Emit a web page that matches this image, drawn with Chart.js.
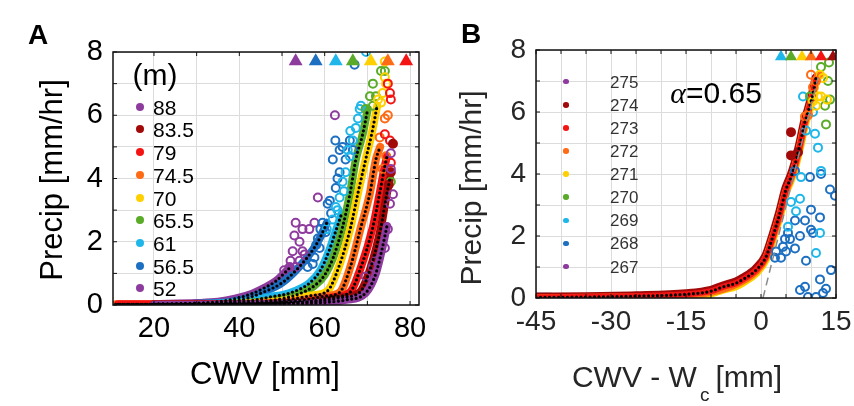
<!DOCTYPE html>
<html>
<head>
<meta charset="utf-8">
<script src="https://cdn.jsdelivr.net/npm/chart.js@4.4.1/dist/chart.umd.min.js"></script>
<style>
  html, body { margin: 0; padding: 0; background: #fff; }
  #wrap { position: relative; width: 854px; height: 406px; overflow: hidden; font-family: "Liberation Sans", Arial, sans-serif; }
  canvas { position: absolute; top: 0; }
  .txt { position: absolute; line-height: 1; white-space: nowrap; transform: translate(-50%, -50%); }
  .rot { transform: translate(-50%, -50%) rotate(-90deg); }
  .row { position: absolute; line-height: 1; white-space: nowrap; transform: translateY(-50%); }
  .dot { position: absolute; border-radius: 50%; }
</style>
</head>
<body>
<div id="wrap">
  <canvas id="chartA" width="430" height="406" style="left:0"></canvas>
  <canvas id="chartB" width="424" height="406" style="left:430px"></canvas>

  <div class="txt" style="left:38px;top:35px;font-weight:bold;font-size:28px">A</div>
  <div class="txt" style="left:471px;top:34px;font-weight:bold;font-size:28px">B</div>

  <div class="txt rot" style="left:51px;top:180px;font-size:31px">Precip [mm/hr]</div>
  <div class="txt" style="left:265px;top:373px;font-size:31px">CWV [mm]</div>
  <div class="txt" style="left:155px;top:75px;font-size:30px">(m)</div>

  <div class="txt rot" style="left:471px;top:188px;font-size:30px;color:#262626">Precip [mm/hr]</div>
  <div class="txt" style="left:677px;top:377px;font-size:30px;color:#262626">CWV - W<span style="font-size:19px;position:relative;top:14px;margin:0 6px 0 3px">c</span>[mm]</div>
  <div class="txt" style="left:716px;top:93px;font-size:30px"><span style="font-family:'Liberation Serif',serif;font-style:italic">&alpha;</span>=0.65</div>
</div>

<script>
// colours used by both panels
const purple = "#8e3b9e";
const darkred = "#a20a0a";
const red = "#f51414";
const orange = "#ff6a14";
const yellow = "#ffd000";
const green = "#5aab28";
const cyan = "#1fb7ea";
const blue = "#1d6fc1";

// ---------- panel A : precip vs CWV, by depth (m) ----------
const depthLabelsA = ["88", "83.5", "79", "74.5", "70", "65.5", "61", "56.5", "52"];
const depthColorsA = [purple, darkred, red, orange, yellow, green, cyan, blue, purple];

const ticksAX = [20, 30, 40, 50, 60, 70, 80];
const labelsAX = [20, 40, 60, 80];
const ticksAY = [0, 1, 2, 3, 4, 5, 6, 7, 8];
const labelsAY = [0, 2, 4, 6, 8];

// dense binned means (drawn as thick bands), [cwv, precip]
const a52Band = [[20, 0.03], [30, 0.06], [35, 0.1], [39, 0.2], [43, 0.36], [46, 0.55], [48.5, 0.75], [50.5, 1.0], [52, 1.2]];
const a565Band = [[20, 0.02], [30, 0.04], [38, 0.1], [42, 0.22], [45.5, 0.4], [50, 0.7], [54, 1.2], [57.2, 1.74], [59, 2.15], [60.5, 2.6]];
const a61Band = [[20, 0.02], [35, 0.05], [42, 0.12], [47, 0.25], [51.8, 0.38], [56.5, 0.7], [59, 1.1], [61, 1.7], [62.5, 2.3], [64, 2.9]];
const a655Band = [[20, 0.02], [38, 0.04], [45, 0.1], [50, 0.2], [54, 0.35], [57.5, 0.6], [60, 0.95], [62, 1.5], [64.2, 2.47], [65.9, 3.5], [67.3, 4.6], [68.9, 5.4], [70.1, 6.2]];
const a70Band = [[20, 0.02], [40, 0.04], [48, 0.1], [53, 0.2], [57, 0.3], [60.7, 0.45], [63.3, 1.2], [66.1, 2.47], [67.8, 3.54], [69.6, 4.6], [71, 5.4], [72.3, 6.3]];
const a745Band = [[11, 0.02], [25, 0.02], [40, 0.03], [50, 0.08], [56, 0.18], [60, 0.28], [63.5, 0.4], [66, 1.2], [68.5, 2.47], [70.6, 3.54], [72, 4.6], [73, 5.0]];
const a79Band = [[11.6, 0.02], [25, 0.02], [40, 0.03], [52, 0.06], [58, 0.14], [62, 0.25], [65.9, 0.4], [68.5, 1.2], [71.3, 2.47], [72.9, 3.54], [74.1, 4.4], [74.6, 4.7]];
const a835Band = [[20, 0.02], [30, 0.02], [45, 0.03], [55, 0.08], [60, 0.14], [64, 0.24], [68.2, 0.4], [70.8, 1.2], [73.2, 2.47], [74.4, 3.4], [75.3, 4.0]];
const a88Band = [[20, 0.01], [30, 0.01], [45, 0.02], [55, 0.04], [60, 0.08], [65, 0.16], [69.6, 0.38], [72, 1.0], [73.5, 1.8], [74.6, 2.5]];

// sparse bins (open circles)
const a52Open = [[50.5, 1.1], [51.8, 1.2], [52, 1.4], [52.5, 1.7], [52.9, 2.2], [53.2, 2.6], [53.2, 1.2], [54.1, 1.4], [54.1, 2.0], [54.8, 1.7], [54.8, 2.4], [55.3, 1.6], [56.4, 2.4], [57.6, 2.6], [58.4, 3.4], [62.4, 6.0]];
const a565Open = [[56, 1.2], [57.2, 1.3], [57.6, 1.5], [58, 1.9], [58.8, 1.8], [58.4, 2.1], [59, 2.4], [59.5, 2.6], [60.2, 2.3], [60.7, 3.2], [61.2, 3.3], [61.5, 2.9], [62.6, 3.7], [63, 4.0], [63.5, 4.2], [61.9, 4.6], [63.5, 4.9], [64.9, 4.6], [64.2, 5.0], [62.5, 5.2], [65.9, 5.2], [66.6, 4.9], [67, 7.6]];
const a61Open = [[60.5, 2.4], [61.9, 2.7], [62.6, 3.1], [63, 3.0], [63.5, 3.4], [64.2, 3.9], [64.5, 3.6], [64.9, 4.2], [65.9, 4.7], [65.4, 4.9], [66.6, 5.2], [66, 5.5], [67.3, 5.6], [67.8, 5.9], [68.2, 6.2], [68.5, 6.3], [69.7, 8.0]];
const a655Open = [[69.6, 6.2], [70.6, 6.6], [71.3, 6.3], [72, 6.6], [71.3, 7.0], [73.2, 7.4], [74.1, 7.4], [75.5, 3.9]];
const a70Open = [[72.5, 6.5], [73.2, 6.4], [73.6, 6.7], [74.4, 7.0], [74.1, 7.2], [74.1, 7.7]];
const a745Open = [[73.6, 4.3], [74.4, 4.7], [72.9, 5.3], [74.1, 5.9], [74.8, 6.0]];
const a79Open = [[75.5, 4.5], [75.3, 5.2], [74.1, 5.4], [75.5, 6.5], [75.3, 6.7], [74.8, 7.0]];
const a835Open = [[75, 3.8], [75.5, 4.2], [76, 5.1]];
const a88Open = [[61.9, 0.06], [69.6, 0.9], [71.3, 1.2], [72, 1.4], [74.1, 1.8], [74.8, 2.4], [75.3, 3.2], [76, 3.5], [75.5, 4.3], [75.5, 4.8]];

// critical CWV markers along the top
const triAX = [53.2, 57.9, 62.6, 66.6, 70.8, 74.8, 79.1];
const triAColors = [purple, blue, cyan, green, yellow, orange, red];
const triLevelA = 7.71;

// ---------- panel B : precip vs CWV - Wc, by temperature ----------
const tempLabelsB = ["275", "274", "273", "272", "271", "270", "269", "268", "267"];
const tempColorsB = [purple, darkred, red, orange, yellow, green, cyan, blue, purple];

const ticksBX = [-45, -40, -35, -30, -25, -20, -15, -10, -5, 0, 5, 10, 15];
const labelsBX = [-45, -30, -15, 0, 15];
const ticksBY = [0, 1, 2, 3, 4, 5, 6, 7, 8];
const labelsBY = [0, 2, 4, 6, 8];

const b274Band = [[-45, 0.03], [-35, 0.04], [-25, 0.07], [-15, 0.14], [-10, 0.25], [-7.6, 0.39], [-5, 0.52], [-3.6, 0.64], [-1, 0.94], [1, 1.37], [2.4, 2.04], [3.8, 2.8], [5, 3.55], [6, 3.95], [6.8, 4.35], [7.8, 5.0], [8.8, 5.75], [9.4, 6.05], [10.4, 6.65], [11, 7.1]];
const b271Band = [[-20, 0.0], [-15, 0.05], [-10, 0.14], [-7.6, 0.27], [-5, 0.38], [-3.6, 0.5], [-1, 0.8], [1, 1.25], [2.4, 1.92], [3.8, 2.65], [5, 3.4], [6, 3.8], [6.8, 4.2], [7.8, 4.85], [8.8, 5.6], [9.4, 5.9], [10.4, 6.5], [11, 7.0]];
const b272Band = [[-45, 0.01], [-30, 0.03], [-15, 0.08], [-10, 0.18], [-5, 0.43], [-1, 0.85], [1, 1.3], [2.4, 1.96], [3.8, 2.7], [5, 3.45], [6, 3.85], [6.8, 4.25], [7.8, 4.9], [8.8, 5.65], [9.4, 6.0], [10.4, 6.6], [11, 7.05], [11.8, 7.2]];
const b273Band = [[-45, 0.02], [-35, 0.03], [-25, 0.06], [-15, 0.12], [-10, 0.22], [-7.6, 0.36], [-5, 0.48], [-3.6, 0.6], [-1, 0.9], [1, 1.33], [2.4, 2.0], [3.8, 2.75], [5, 3.5], [6, 3.9], [6.8, 4.3], [7.8, 4.95], [8.8, 5.7], [9.4, 6.0], [10.4, 6.6], [11, 7.1]];
const b268Band = [[-45, 0.06], [-42, 0.06]];

const b268Open = [[2.8, 1.3], [3, 1.5], [4, 1.3], [4.4, 1.65], [4.8, 1.9], [5, 1.5], [5.4, 2.1], [5.8, 1.9], [6.8, 1.6], [6.8, 2.5], [6.8, 4.1], [7.8, 2.0], [7.8, 0.26], [8.8, 2.5], [8.8, 0.36], [9, 1.2], [9.4, 0.03], [9.8, 3.9], [10, 2.85], [10, 2.2], [10.4, 2.1], [11, 0.03], [11.8, 2.6], [11.8, 0.6], [12, 4.0], [12.4, 0.16], [13, 0.3], [13.8, 3.5], [14, 0.9], [14.8, 3.3]];
const b269Open = [[5.4, 2.3], [6, 3.1], [7, 2.8], [7.8, 3.2], [8, 3.9], [8.4, 6.5], [9, 5.4], [10.4, 6.0], [10.8, 5.3], [11, 1.45], [11.4, 4.85], [11.8, 2.1], [12, 4.1]];
const b270Open = [[9.8, 6.5], [12, 7.45], [12.8, 6.2], [13, 5.6], [13.4, 7.0], [13.8, 6.4], [13.6, 7.6]];
const b271Open = [[10.4, 6.35], [11, 6.2], [11.4, 6.5], [11.8, 7.2], [12, 6.5], [12.4, 7.1], [13.2, 6.4]];
const b272Open = [[8.8, 5.85], [9.4, 5.9], [10, 7.2], [10.4, 6.8], [11, 7.0]];
const b274Extra = [[6, 5.35], [6, 4.6], [7.4, 4.7]];

// linear fit above the critical point (slope alpha)
const fitLineB = [[0.4, 0.0], [11.4, 7.1]];

const triBX = [4, 6, 8.2, 10, 12, 14.4];
const triBColors = [cyan, green, yellow, orange, red, darkred];
const triLevelB = 7.78;

// ---------- helpers ----------
function toPts(pairs) {
    return pairs.map(p => ({ x: p[0], y: p[1] }));
}

function bandSet(pairs, color, width) {
    return {
        data: toPts(pairs), showLine: true, borderColor: color, borderWidth: width,
        pointRadius: 0, cubicInterpolationMode: "monotone",
        borderCapStyle: "round", borderJoinStyle: "round", order: 4
    };
}

function dotsSet(pairs) {
    return {
        data: toPts(pairs), showLine: true, borderColor: "#000", borderWidth: 3.2,
        borderDash: [0, 4.5], borderCapStyle: "round", pointRadius: 0,
        cubicInterpolationMode: "monotone", order: 2
    };
}

function openSet(pairs, color, filled) {
    return {
        data: toPts(pairs), showLine: false, pointRadius: 4, pointBorderWidth: 2,
        pointBorderColor: color, pointBackgroundColor: filled ? color : "rgba(0,0,0,0)", order: 3
    };
}

function triSet(xs, level, colors, r) {
    return {
        data: xs.map(x => ({ x: x, y: level })), showLine: false, pointStyle: "triangle",
        pointRadius: r, pointBorderWidth: 0, pointBackgroundColor: colors, pointBorderColor: colors, order: 0
    };
}

// black box round the axes plus short inward ticks
const framePlugin = {
    id: "frame",
    afterDatasetsDraw(chart) {
        const { ctx, chartArea: a, scales } = chart;
        ctx.save();
        ctx.strokeStyle = "#111";
        ctx.lineWidth = 1.5;
        ctx.strokeRect(a.left, a.top, a.right - a.left, a.bottom - a.top);
        ctx.lineWidth = 1;
        ctx.beginPath();
        scales.x.ticks.forEach(t => {
            const px = scales.x.getPixelForValue(t.value);
            ctx.moveTo(px, a.bottom); ctx.lineTo(px, a.bottom - 4);
            ctx.moveTo(px, a.top); ctx.lineTo(px, a.top + 4);
        });
        scales.y.ticks.forEach(t => {
            const py = scales.y.getPixelForValue(t.value);
            ctx.moveTo(a.left, py); ctx.lineTo(a.left + 4, py);
            ctx.moveTo(a.right, py); ctx.lineTo(a.right - 4, py);
        });
        ctx.stroke();
        ctx.restore();
    }
};

function axis(min, max, tickVals, labelVals, size, fontSize, color, isX) {
    const ax = {
        type: "linear", min: min, max: max,
        border: { display: false },
        grid: { color: "#dcdcdc", lineWidth: 1, drawTicks: false },
        ticks: {
            autoSkip: false, maxRotation: 0, color: color, padding: isX ? 7 : 10,
            font: { size: fontSize },
            callback: v => labelVals.includes(v) ? String(v) : ""
        },
        afterBuildTicks: s => { s.ticks = tickVals.map(v => ({ value: v })); }
    };
    // fixed axis box, no extra room for edge labels
    ax.afterFit = s => {
        if (isX) s.height = size; else s.width = size;
        s.paddingLeft = 0; s.paddingRight = 0; s.paddingTop = 0; s.paddingBottom = 0;
    };
    return ax;
}

function makeLegend(labels, colors, dotX, textX, y0, step, r, fontSize, color) {
    const wrap = document.getElementById("wrap");
    labels.forEach((lab, i) => {
        const y = y0 + i * step;
        const d = document.createElement("span");
        d.className = "dot";
        d.style.cssText = `left:${dotX - r}px;top:${y - r}px;width:${2 * r}px;height:${2 * r}px;background:${colors[i]}`;
        wrap.appendChild(d);
        const t = document.createElement("div");
        t.className = "row";
        t.style.cssText = `left:${textX}px;top:${y}px;font-size:${fontSize}px;color:${color}`;
        t.textContent = lab;
        wrap.appendChild(t);
    });
}

Chart.defaults.font.family = '"Liberation Sans", Arial, sans-serif';

// ---------- chart A ----------
// first entry ends up on top, so the deepest series lie over the shallow ones
const bandsA = [a88Band, a835Band, a79Band, a745Band, a70Band, a655Band, a61Band, a565Band, a52Band];
const bandColorsA = [purple, darkred, red, orange, yellow, green, cyan, blue, purple];
const openA = [a88Open, a835Open, a79Open, a745Open, a70Open, a655Open, a61Open, a565Open, a52Open];

const datasetsA = [triSet(triAX, triLevelA, triAColors, 8)];
bandsA.forEach(b => datasetsA.push(dotsSet(b)));
openA.forEach((o, i) => datasetsA.push(openSet(o, bandColorsA[i], bandColorsA[i] === darkred)));
bandsA.forEach((b, i) => datasetsA.push(bandSet(b, bandColorsA[i], 8)));

new Chart(document.getElementById("chartA"), {
    type: "scatter",
    data: { datasets: datasetsA },
    options: {
        responsive: false, animation: false, events: [],
        layout: { padding: { top: 52, right: 11, left: 0, bottom: 0 } },
        plugins: { legend: { display: false }, tooltip: { enabled: false } },
        scales: {
            x: axis(10.4, 82.1, ticksAX, labelsAX, 101, 29, "#000", true),
            y: axis(0, 8, ticksAY, labelsAY, 113, 29, "#000", false)
        }
    },
    plugins: [framePlugin]
});

// ---------- chart B ----------
const datasetsB = [
    triSet(triBX, triLevelB, triBColors, 7),
    { data: toPts(fitLineB), showLine: true, borderColor: "#8a8a8a", borderWidth: 1.5, borderDash: [8, 5], pointRadius: 0, order: 1 },
    dotsSet(b273Band),
    openSet(b274Extra, darkred, true),
    openSet(b272Open, orange, false),
    openSet(b271Open, yellow, false),
    openSet(b270Open, green, false),
    openSet(b269Open, cyan, false),
    openSet(b268Open, blue, false),
    bandSet(b273Band, red, 6),
    bandSet(b272Band, orange, 7),
    bandSet(b271Band, yellow, 8),
    bandSet(b274Band, darkred, 9),
    bandSet(b268Band, blue, 7)
];

new Chart(document.getElementById("chartB"), {
    type: "scatter",
    data: { datasets: datasetsB },
    options: {
        responsive: false, animation: false, events: [],
        layout: { padding: { top: 50, right: 18, left: 0, bottom: 0 } },
        plugins: { legend: { display: false }, tooltip: { enabled: false } },
        scales: {
            x: axis(-45, 15, ticksBX, labelsBX, 108, 28, "#262626", true),
            y: axis(0, 8, ticksBY, labelsBY, 106, 28, "#262626", false)
        }
    },
    plugins: [framePlugin]
});

makeLegend(depthLabelsA, depthColorsA, 139.5, 153, 106.7, 22.7, 4, 21, "#000");
makeLegend(tempLabelsB, tempColorsB, 566, 610, 81.7, 23.1, 2.8, 17, "#333");
</script>
</body>
</html>
